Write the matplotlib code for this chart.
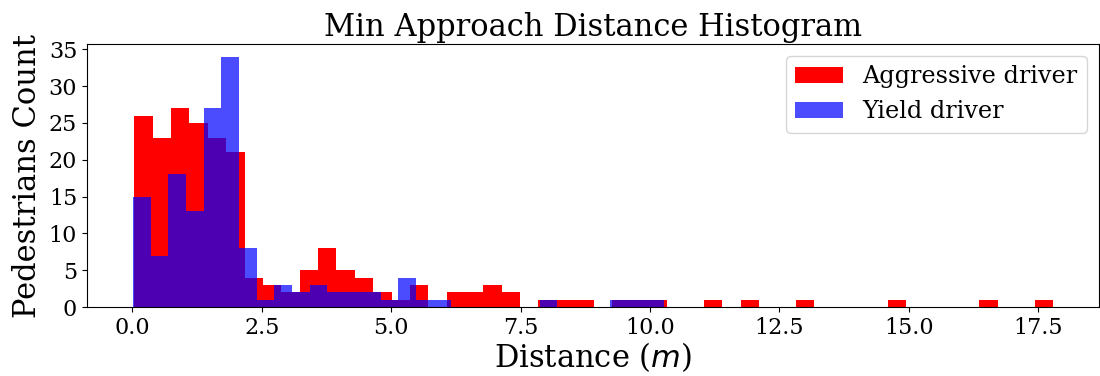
import numpy as np
import matplotlib
matplotlib.use("Agg")
import matplotlib.pyplot as plt

plt.rcParams['font.family'] = ['DejaVu Serif']

# Aggressive driver: 50 bins over [0.04, 17.78]
red_range = (0.04, 17.78)
red_counts = [26, 23, 27, 25, 23, 21, 4, 3, 2, 5,
              8, 5, 4, 2, 1, 3, 0, 2, 2, 3,
              2, 0, 1, 1, 1, 0, 1, 1, 1, 0,
              0, 1, 0, 1, 0, 0, 1, 0, 0, 0,
              0, 1, 0, 0, 0, 0, 1, 0, 0, 1]

# Yield driver: 30 bins over [0.013, 10.26]
blue_range = (0.013, 10.26)
blue_counts = [15, 7, 18, 13, 27, 34, 8, 1, 3, 2,
               3, 2, 2, 2, 1, 4, 1, 1, 0, 0,
               0, 0, 0, 1, 0, 0, 0, 1, 1, 1]

labels = ["Aggressive driver", "Yield driver"]
x_ticks = [0.0, 2.5, 5.0, 7.5, 10.0, 12.5, 15.0, 17.5]
y_ticks = [0, 5, 10, 15, 20, 25, 30, 35]

fig = plt.figure(figsize=(11, 3.76), dpi=100)
ax = fig.add_axes([0.079, 0.183, 0.920, 0.700])

r_edges = np.linspace(red_range[0], red_range[1], len(red_counts) + 1)
b_edges = np.linspace(blue_range[0], blue_range[1], len(blue_counts) + 1)
r_centers = (r_edges[:-1] + r_edges[1:]) / 2
b_centers = (b_edges[:-1] + b_edges[1:]) / 2

ax.hist(r_centers, bins=r_edges, weights=red_counts, color='red', label=labels[0])
ax.hist(b_centers, bins=b_edges, weights=blue_counts, color='blue', alpha=0.7, label=labels[1])

ax.set_xticks(x_ticks)
ax.set_xticklabels([f"{t:.1f}" for t in x_ticks])
ax.set_yticks(y_ticks)
ax.tick_params(labelsize=16)
ax.set_title("Min Approach Distance Histogram", fontsize=22)
ax.set_xlabel("Distance ($m$)", fontsize=22, labelpad=1)
ax.set_ylabel("Pedestrians Count", fontsize=22)
ax.legend(loc='upper right', fontsize=17.2)

fig.savefig("out.png", dpi=100)
